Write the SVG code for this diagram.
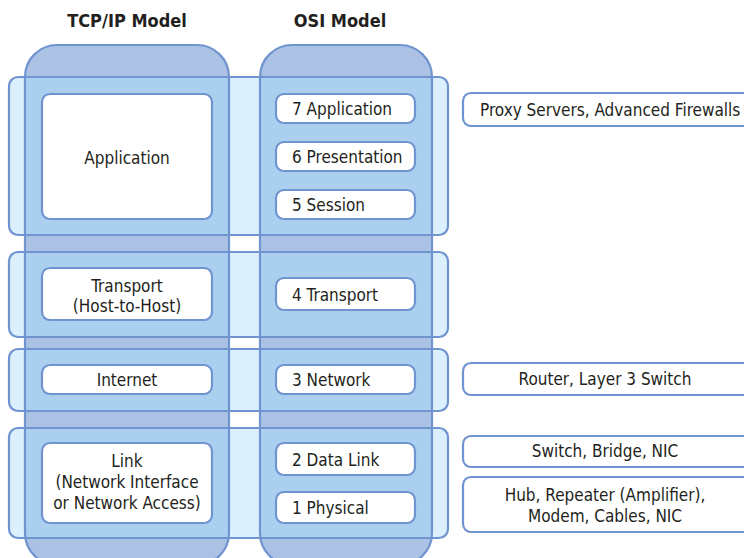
<svg xmlns="http://www.w3.org/2000/svg" width="744" height="558" viewBox="0 0 744 558">
  <defs>
    <style>
      .row { fill: #dbeffc; }
      .col { fill: #abc2e4; }
      .colin { fill: #aacfef; }
      .edge { fill: none; stroke: #7094d0; stroke-width: 2.2; }
      .box { fill: #ffffff; stroke: #7094d0; stroke-width: 2.2; }
      .t { font-family: "Liberation Sans Narrow", "DejaVu Sans Condensed", "Liberation Sans", sans-serif; font-size: 17px; fill: #231f20; }
      .c { text-anchor: middle; }
      .h { font-weight: bold; font-size: 18px; }
    </style>
    <clipPath id="rowsClip">
      <rect x="9" y="77" width="439" height="158" rx="9"/>
      <rect x="9" y="252" width="439" height="85" rx="9"/>
      <rect x="9" y="349" width="439" height="62" rx="9"/>
      <rect x="9" y="428" width="439" height="110" rx="9"/>
    </clipPath>
  </defs>

  <!-- column headings -->
  <text class="t h c" x="127" y="27">TCP/IP Model</text>
  <text class="t h c" x="340" y="27">OSI Model</text>

  <!-- layer bands and model columns -->
  <g id="bands">
    <rect class="row" x="9" y="77" width="439" height="158" rx="9"/>
    <rect class="row" x="9" y="252" width="439" height="85" rx="9"/>
    <rect class="row" x="9" y="349" width="439" height="62" rx="9"/>
    <rect class="row" x="9" y="428" width="439" height="110" rx="9"/>
    <rect class="col" x="25" y="45" width="204" height="520" rx="32"/>
    <rect class="col" x="260" y="45" width="172" height="520" rx="32"/>
    <g clip-path="url(#rowsClip)">
      <rect class="colin" x="25" y="45" width="204" height="520" rx="32"/>
      <rect class="colin" x="260" y="45" width="172" height="520" rx="32"/>
    </g>
    <rect class="edge" x="9" y="77" width="439" height="158" rx="9"/>
    <rect class="edge" x="9" y="252" width="439" height="85" rx="9"/>
    <rect class="edge" x="9" y="349" width="439" height="62" rx="9"/>
    <rect class="edge" x="9" y="428" width="439" height="110" rx="9"/>
    <rect class="edge" x="25" y="45" width="204" height="520" rx="32"/>
    <rect class="edge" x="260" y="45" width="172" height="520" rx="32"/>
  </g>

  <!-- TCP/IP layers -->
  <g id="tcp-application">
    <rect class="box" x="42" y="94" width="170" height="125" rx="8"/>
    <text class="t c" x="127" y="164">Application</text>
  </g>
  <g id="tcp-transport">
    <rect class="box" x="42" y="268" width="170" height="52" rx="8"/>
    <text class="t c" x="127" y="292">Transport</text>
    <text class="t c" x="127" y="312">(Host-to-Host)</text>
  </g>
  <g id="tcp-internet">
    <rect class="box" x="42" y="365" width="170" height="29" rx="8"/>
    <text class="t c" x="127" y="386">Internet</text>
  </g>
  <g id="tcp-link">
    <rect class="box" x="42" y="443" width="170" height="80" rx="8"/>
    <text class="t c" x="127" y="467">Link</text>
    <text class="t c" x="127" y="488">(Network Interface</text>
    <text class="t c" x="127" y="509">or Network Access)</text>
  </g>

  <!-- OSI layers -->
  <g id="osi-7">
    <rect class="box" x="276" y="94" width="139" height="29" rx="8"/>
    <text class="t" x="292" y="115">7 Application</text>
  </g>
  <g id="osi-6">
    <rect class="box" x="276" y="142" width="139" height="29" rx="8"/>
    <text class="t" x="292" y="163">6 Presentation</text>
  </g>
  <g id="osi-5">
    <rect class="box" x="276" y="190" width="139" height="29" rx="8"/>
    <text class="t" x="292" y="211">5 Session</text>
  </g>
  <g id="osi-4">
    <rect class="box" x="276" y="278" width="139" height="32" rx="8"/>
    <text class="t" x="292" y="301">4 Transport</text>
  </g>
  <g id="osi-3">
    <rect class="box" x="276" y="365" width="139" height="29" rx="8"/>
    <text class="t" x="292" y="386">3 Network</text>
  </g>
  <g id="osi-2">
    <rect class="box" x="276" y="443" width="139" height="32" rx="8"/>
    <text class="t" x="292" y="466">2 Data Link</text>
  </g>
  <g id="osi-1">
    <rect class="box" x="276" y="492" width="139" height="31" rx="8"/>
    <text class="t" x="292" y="514">1 Physical</text>
  </g>

  <!-- devices per layer -->
  <g id="dev-proxy">
    <rect class="box" x="463" y="93" width="300" height="33" rx="8"/>
    <text class="t" x="480" y="116">Proxy Servers, Advanced Firewalls</text>
  </g>
  <g id="dev-router">
    <rect class="box" x="463" y="363" width="300" height="32" rx="8"/>
    <text class="t c" x="605" y="385">Router, Layer 3 Switch</text>
  </g>
  <g id="dev-switch">
    <rect class="box" x="463" y="436" width="300" height="31" rx="8"/>
    <text class="t c" x="605" y="457">Switch, Bridge, NIC</text>
  </g>
  <g id="dev-hub">
    <rect class="box" x="463" y="477" width="300" height="55" rx="8"/>
    <text class="t c" x="605" y="501">Hub, Repeater (Amplifier),</text>
    <text class="t c" x="605" y="522">Modem, Cables, NIC</text>
  </g>
</svg>
